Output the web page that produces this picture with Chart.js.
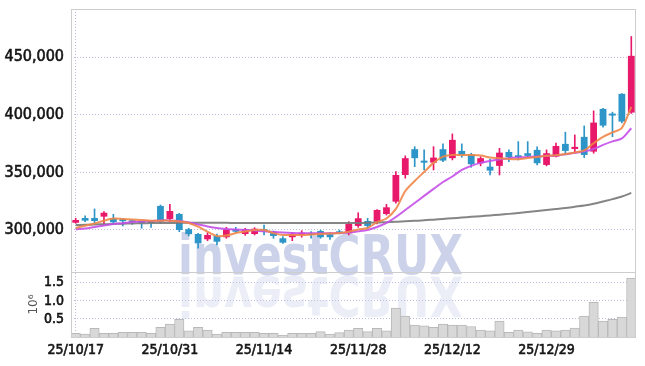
<!DOCTYPE html>
<html>
<head>
<meta charset="utf-8">
<script src="https://cdn.jsdelivr.net/npm/chart.js@4.4.1/dist/chart.umd.min.js"></script>
<style>
  html, body { margin: 0; padding: 0; background: #fff; }
  #wrap { width: 645px; height: 366px; position: relative; }
</style>
</head>
<body>
<div id="wrap"><canvas id="chart-id"></canvas></div>
<script>
// daily candles (KRW)
const dates = ['25/10/17','25/10/20','25/10/21','25/10/22','25/10/23','25/10/24','25/10/27','25/10/28','25/10/29','25/10/30',
  '25/10/31','25/11/03','25/11/04','25/11/05','25/11/06','25/11/07','25/11/10','25/11/11','25/11/12','25/11/13',
  '25/11/14','25/11/17','25/11/18','25/11/19','25/11/20','25/11/21','25/11/24','25/11/25','25/11/26','25/11/27',
  '25/11/28','25/12/01','25/12/02','25/12/03','25/12/04','25/12/05','25/12/08','25/12/09','25/12/10','25/12/11',
  '25/12/12','25/12/15','25/12/16','25/12/17','25/12/18','25/12/19','25/12/22','25/12/23','25/12/24','25/12/26',
  '25/12/29','25/12/30','26/01/02','26/01/05','26/01/06','26/01/07','26/01/08','26/01/09','26/01/12','26/01/13'];

const opens = [306300,310400,310400,311600,310200,309600,308100,307000,307000,320900,
  309600,313900,300700,296500,291900,294800,293700,300600,296500,296500,
  299600,298500,292800,293700,295900,297100,299100,296300,298500,297100,
  303500,307800,307200,313900,324600,347800,370200,360000,358500,370200,
  362400,368700,365800,358000,355000,355700,367800,364400,366700,369600,
  356500,363700,374800,370400,380900,368100,405200,400600,418300,402000];
const highs = [310200,312200,318300,315900,313600,309900,308500,307500,307400,321700,
  322300,314500,301500,297100,297700,296500,302300,302300,301500,302000,
  304300,299100,294200,297700,299400,298700,300000,297700,300000,307200,
  315000,310200,317800,322300,350700,364400,372400,369600,372400,374800,
  383500,374800,366700,363700,361500,371000,369600,376800,376800,372200,
  369600,375400,385000,382600,390400,403500,405600,402400,418500,468100];
const lows = [305800,307200,305800,305000,305800,303500,305000,301500,302300,305800,
  307200,298500,294800,284100,290700,287000,292800,297700,295400,295700,
  295700,292800,288400,290700,293700,292800,292800,291900,296500,295700,
  302300,301500,305200,313000,323200,345000,355000,352200,352200,359400,
  360900,363200,354500,355700,347800,347800,359400,360900,363200,356500,
  355700,363500,365200,366700,362900,366700,389300,381100,393000,401300];
const closes = [308700,308100,307800,315000,306700,307600,306700,306100,306100,307200,
  316500,300000,296400,288400,295700,289800,300600,298500,300600,301100,
  299000,294800,289000,296500,297100,295700,293700,293700,297100,305200,
  310200,303500,317400,319700,347800,362400,362400,358500,362900,360300,
  378300,365200,357100,362400,351600,367200,363200,363200,364400,358000,
  366700,373000,368700,372200,365200,393300,390700,399400,394200,451300];

// volume, millions of shares
const volumes = [0.10,0.08,0.24,0.10,0.10,0.13,0.13,0.13,0.10,0.27,
  0.36,0.49,0.17,0.27,0.19,0.08,0.13,0.13,0.13,0.13,
  0.10,0.10,0.05,0.10,0.10,0.10,0.15,0.08,0.12,0.19,
  0.24,0.15,0.24,0.17,0.80,0.58,0.33,0.31,0.27,0.36,
  0.33,0.33,0.29,0.19,0.17,0.44,0.13,0.19,0.14,0.10,
  0.19,0.17,0.19,0.25,0.58,0.96,0.44,0.49,0.55,1.63];

// moving averages
const ma5 = [301800,303700,305700,308100,309900,309600,309200,308700,308100,308100,
  308100,307400,306100,302900,298500,294800,295200,297300,298600,300000,
  300000,297300,295700,295700,295700,296100,296500,296900,297300,298500,
  300400,301700,306900,310000,318300,333900,342600,350400,358300,363700,
  365200,365200,365200,364800,363000,362400,361700,361500,362600,363500,
  364400,365000,366100,367400,369100,375400,380900,384800,388700,407000];
const ma20 = [300600,301300,302600,303900,305200,305900,306900,307400,307800,308300,
  308300,307800,306500,304800,303100,301700,300900,300400,300000,299600,
  298800,298300,297800,297400,297100,297100,297100,297100,297400,297800,
  298800,300000,302600,306100,311300,317400,323500,329600,335700,341700,
  346500,352200,355700,358300,360000,361300,362400,363000,363500,363900,
  364400,364800,365700,367000,368300,370400,373900,377000,379600,388400];
const maLong = [304300,304500,304800,305000,305200,305500,305700,305800,306000,306100,
  306100,306200,306200,306200,306200,306200,306200,306100,306100,306100,
  306100,306100,306100,306100,306000,306000,306000,306000,306000,306000,
  306100,306200,306400,306800,307100,307600,308000,308400,309000,309600,
  310200,310800,311400,312000,312600,313300,314000,314800,315600,316400,
  317300,318200,319100,320200,321300,322800,324800,326800,329100,332200];

const xTickLabels = ['25/10/17','25/10/31','25/11/14','25/11/28','25/12/12','25/12/29'];
const priceTicks = [300000, 350000, 400000, 450000];
const volTicks = [0.5, 1.0, 1.5];
const WATERMARK = 'investCRUX';

const UP = '#e8196b';
const DOWN = '#2d95c8';
const GRID = 'rgba(165,165,210,0.75)';
const INK = '#151515';
const NARROW = '"Liberation Sans Narrow", "DejaVu Sans Condensed", "Roboto", sans-serif';

const candleColors = closes.map((c, i) => c >= opens[i] ? UP : DOWN);

const watermarkPlugin = {
  id: 'watermark',
  beforeDatasetsDraw(chart) {
    const ctx = chart.ctx;
    ctx.save();
    ctx.font = 'bold 56px ' + NARROW;
    const sx = 285 / ctx.measureText(WATERMARK).width;
    ctx.textBaseline = 'alphabetic';
    // upright
    ctx.save();
    ctx.translate(178, 274);
    ctx.scale(sx, 1);
    ctx.fillStyle = 'rgba(178,188,222,0.68)';
    ctx.fillText(WATERMARK, 0, 0);
    ctx.restore();
    // reflection
    ctx.save();
    ctx.translate(178, 277);
    ctx.scale(sx, -1);
    ctx.fillStyle = 'rgba(200,206,232,0.36)';
    ctx.fillText(WATERMARK, 0, 0);
    ctx.restore();
    ctx.restore();
  },
  afterDraw(chart) {
    const {ctx, chartArea: a, scales} = chart;
    ctx.save();
    ctx.strokeStyle = '#cdcdcd';
    ctx.lineWidth = 1;
    ctx.strokeRect(a.left + 0.5, a.top + 0.5, a.right - a.left - 1, a.bottom - a.top);
    const sep = Math.round(scales.y.bottom) + 0.5;
    ctx.beginPath();
    ctx.moveTo(a.left, sep);
    ctx.lineTo(a.right, sep);
    ctx.stroke();
    ctx.restore();
  }
};

const lineDs = (label, data, color) => ({
  type: 'line', label, data, yAxisID: 'y',
  borderColor: color, borderWidth: 2, pointRadius: 0,
  tension: 0.3, order: 0
});

const fitLeft = s => {
  s.width = 71;
  s.paddingTop = 0;
  s.paddingBottom = 0;
};

const config = {
  data: {
    labels: dates,
    datasets: [
      lineDs('MA5', ma5, 'rgba(238,134,72,0.9)'),
      lineDs('MA20', ma20, 'rgba(196,78,232,0.9)'),
      lineDs('MA long', maLong, 'rgba(120,120,120,0.9)'),
      {
        type: 'bar', label: 'body', yAxisID: 'y',
        data: opens.map((o, i) => [o, closes[i]]),
        backgroundColor: candleColors,
        barPercentage: 0.72, categoryPercentage: 1,
        minBarLength: 2, grouped: false, order: 1
      },
      {
        type: 'bar', label: 'wick', yAxisID: 'y',
        data: lows.map((l, i) => [l, highs[i]]),
        backgroundColor: candleColors,
        barThickness: 1, grouped: false, order: 2
      },
      {
        type: 'bar', label: 'volume', yAxisID: 'yv',
        data: volumes,
        backgroundColor: '#d8d8d8', borderColor: '#b9b9b9', borderWidth: 1,
        barPercentage: 1, categoryPercentage: 1, grouped: false, order: 3
      }
    ]
  },
  options: {
    responsive: true,
    maintainAspectRatio: false,
    animation: false,
    devicePixelRatio: 1,
    layout: { padding: { left: 0, right: 9, top: 9, bottom: 0 } },
    plugins: { legend: { display: false }, tooltip: { enabled: false } },
    scales: {
      x: {
        type: 'category', offset: true,
        grid: {
          offset: false, drawTicks: false,
          color: ctx => (ctx.tick && xTickLabels.includes(dates[ctx.index])) ? GRID : 'transparent'
        },
        border: { display: false, dash: [1, 2] },
        ticks: {
          autoSkip: false, maxRotation: 0, padding: 5,
          color: INK, textStrokeColor: INK, textStrokeWidth: 0.6,
          font: { family: NARROW, size: 14 },
          callback: (v, i) => xTickLabels.includes(dates[i]) ? dates[i] : null
        },
        afterFit: s => { s.height = 29; }
      },
      yv: {
        type: 'linear', position: 'left', stack: 'panels', stackWeight: 65,
        min: 0, max: 1.8,
        afterBuildTicks: s => { s.ticks = volTicks.map(v => ({ value: v })); },
        grid: { color: GRID, drawTicks: false },
        border: { display: false, dash: [1, 2] },
        ticks: {
          autoSkip: false, padding: 7,
          color: INK, textStrokeColor: INK, textStrokeWidth: 0.6,
          font: { family: NARROW, size: 14 },
          callback: v => v.toFixed(1)
        },
        title: {
          display: true, text: '10⁶', color: '#555',
          font: { family: 'DejaVu Sans', size: 12 }, padding: { top: 27, bottom: 0 }
        },
        afterFit: fitLeft
      },
      y: {
        type: 'linear', position: 'left', stack: 'panels', stackWeight: 263,
        min: 263500, max: 492000,
        afterBuildTicks: s => { s.ticks = priceTicks.map(v => ({ value: v })); },
        grid: { color: GRID, drawTicks: false },
        border: { display: false, dash: [1, 2] },
        ticks: {
          autoSkip: false, padding: 7,
          color: INK, textStrokeColor: INK, textStrokeWidth: 0.6,
          font: { family: NARROW, size: 16 },
          callback: v => v.toLocaleString('en-US')
        },
        afterFit: fitLeft
      }
    }
  },
  plugins: [watermarkPlugin]
};

let myChart = new Chart(document.getElementById('chart-id'), config);
</script>
</body>
</html>
